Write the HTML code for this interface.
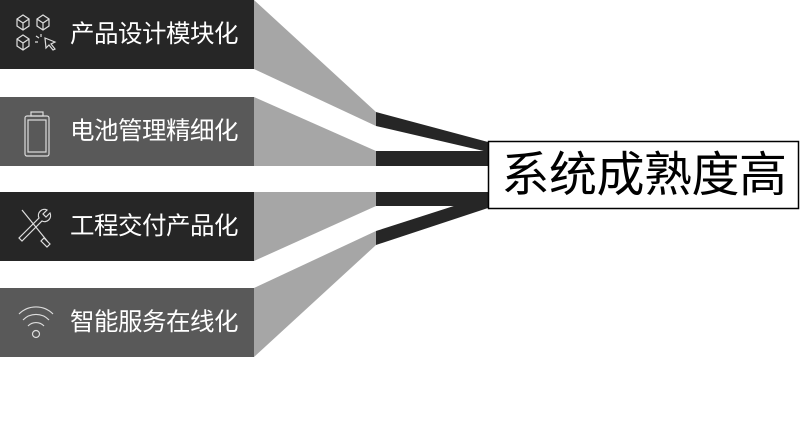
<!DOCTYPE html>
<html><head><meta charset="utf-8"><style>
body{margin:0;width:800px;height:430px;background:#fff;overflow:hidden;font-family:"Liberation Sans","Noto Sans CJK SC",sans-serif;}
.lbl{position:absolute;left:70px;color:#fff;font-size:24.5px;line-height:69px;height:69px;letter-spacing:-0.5px;}
</style></head><body>
<svg width="800" height="430" style="position:absolute;left:0;top:0">
<g fill="#a6a6a6">
<polygon points="254,0 376,112 376,126 254,69"/>
<polygon points="254,97 376,151 376,166 254,166"/>
<polygon points="254,192 376,192 376,206 254,261"/>
<polygon points="254,288 376,231 376,245 254,357"/>
</g>
<rect x="0" y="0" width="254" height="69" fill="#262626"/>
<rect x="0" y="97" width="254" height="69" fill="#595959"/>
<rect x="0" y="192" width="254" height="69" fill="#262626"/>
<rect x="0" y="288" width="254" height="69" fill="#595959"/>
<g fill="#262626">
<polygon points="376,112 488,142 488,152 376,126"/>
<polygon points="376,151 488,151 488,166 376,166"/>
<polygon points="376,192 488,192 488,206 376,206"/>
<polygon points="376,231 460,204 488,204 488,208 376,245"/>
</g>
<rect x="488.5" y="141.5" width="310" height="67" fill="#fff" stroke="#000" stroke-width="1.5"/>
<g fill="none" stroke="#ddd" stroke-width="1.2">
<path d="M17,19 l6,-4 6,4 v7 l-6,4 -6,-4z M17,19 l6,4 6,-4 M23,23 v7"/>
<path d="M37,19 l6,-4 6,4 v7 l-6,4 -6,-4z M37,19 l6,4 6,-4 M43,23 v7"/>
<path d="M17,39 l6,-4 6,4 v7 l-6,4 -6,-4z M17,39 l6,4 6,-4 M23,43 v7"/>
<path d="M45,38 l10,4 -4,2 4,5 -2,1 -4,-5 -3,3z M36,36 l3,2 M41,34 v3 M35,42 h3"/>
<rect x="25" y="116" width="24" height="40" rx="2"/>
<rect x="28" y="120" width="18" height="32"/>
<rect x="31" y="112" width="12" height="4"/>
<path d="M22,210 l26,32 M44,238 l6,6 -3,3 -6,-6z"/>
<path d="M50,213 a6,6 0 0 1 -8,8 l-20,20 -3,-3 20,-20 a6,6 0 0 1 8,-8 l-4,4 3,3z"/>
<circle cx="36" cy="334" r="3.5"/>
<path d="M28,326 a11,11 0 0 1 16,0 M23,320 a18,18 0 0 1 26,0 M19,314 a24,24 0 0 1 34,0"/>
</g>
</svg>
<div class="lbl" style="top:0">产品设计模块化</div>
<div class="lbl" style="top:97px">电池管理精细化</div>
<div class="lbl" style="top:192px">工程交付产品化</div>
<div class="lbl" style="top:288px">智能服务在线化</div>
<div style="position:absolute;left:489px;top:142px;width:310px;height:67px;line-height:67px;text-align:center;font-size:48px;color:#000;letter-spacing:-0.5px;">系统成熟度高</div>
</body></html>
